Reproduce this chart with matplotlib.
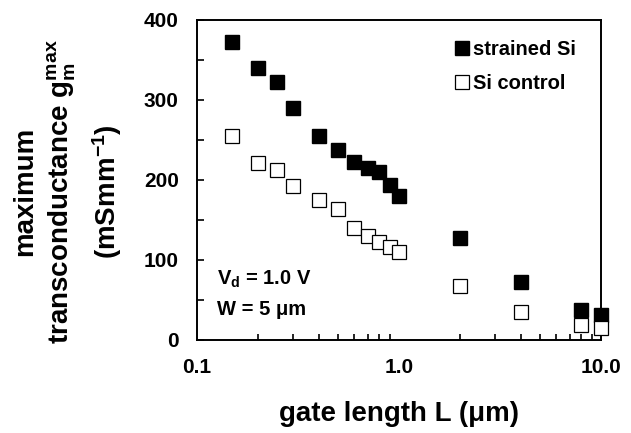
import matplotlib
matplotlib.use("Agg")
import matplotlib.pyplot as plt
from matplotlib.ticker import FixedLocator, NullFormatter

plt.rcParams['font.family'] = 'Liberation Sans'
plt.rcParams['font.weight'] = 'bold'
plt.rcParams['axes.labelweight'] = 'bold'
plt.rcParams['mathtext.fontset'] = 'custom'
plt.rcParams['mathtext.rm'] = 'Liberation Sans:bold'
plt.rcParams['mathtext.it'] = 'Liberation Sans:bold'
plt.rcParams['mathtext.default'] = 'rm'

# gate length (um) and maximum transconductance (mS/mm)
gate_length = [0.15, 0.2, 0.25, 0.3, 0.4, 0.5, 0.6, 0.7, 0.8, 0.9, 1.0, 2.0, 4.0, 8.0, 10.0]
gm_strained = [372, 340, 322, 290, 255, 238, 222, 215, 210, 194, 180, 127, 72, 38, 31]
gm_control = [255, 221, 212, 193, 175, 164, 140, 130, 122, 116, 110, 68, 35, 19, 15]

fig = plt.figure(figsize=(6.31, 4.33), dpi=100)
ax = fig.add_axes([0.312, 0.215, 0.6405, 0.739])

ax.plot(gate_length, gm_strained, 's', color='black', markersize=10,
        label='strained Si', clip_on=False, zorder=3)
ax.plot(gate_length, gm_control, 's', markerfacecolor='white',
        markeredgecolor='black', markeredgewidth=0.9, markersize=10,
        label='Si control', clip_on=False, zorder=3)

ax.set_xscale('log')
ax.set_xlim(0.1, 10)
ax.set_ylim(0, 400)

ax.xaxis.set_major_locator(FixedLocator([0.1, 1.0, 10.0]))
ax.set_xticklabels(['0.1', '1.0', '10.0'])
ax.xaxis.set_minor_locator(FixedLocator([0.2, 0.3, 0.4, 0.5, 0.6, 0.7, 0.8, 0.9,
                                         2, 3, 4, 5, 6, 7, 8, 9]))
ax.xaxis.set_minor_formatter(NullFormatter())
ax.set_yticks([0, 100, 200, 300, 400])
ax.yaxis.set_minor_locator(FixedLocator([50, 150, 250, 350]))

ax.tick_params(axis='both', which='both', direction='in', labelsize=15,
               width=1.2, top=False, right=False)
ax.tick_params(axis='x', which='major', length=0, pad=13)
ax.tick_params(axis='x', which='minor', length=4)
ax.tick_params(axis='y', which='major', length=5, pad=13)
ax.tick_params(axis='y', which='minor', length=5)
for sp in ax.spines.values():
    sp.set_linewidth(1.4)

ax.set_xlabel('gate length L (μm)', fontsize=20, labelpad=17)

# three-line y label, placed by hand
label_y = 0.557
fig.text(0.040, label_y, 'maximum', rotation=90, fontsize=20,
         ha='center', va='center')
fig.text(0.098, label_y, r'transconductance g$_{\mathregular{m}}^{\mathregular{max}}$',
         rotation=90, fontsize=20, ha='center', va='center')
fig.text(0.170, label_y, r'(mSmm$^{-1}$)', rotation=90, fontsize=20,
         ha='center', va='center')

ax.text(0.05, 0.19, r'V$_{\mathregular{d}}$ = 1.0 V', transform=ax.transAxes,
        fontsize=14.5, ha='left', va='center')
ax.text(0.05, 0.095, 'W = 5 μm', transform=ax.transAxes,
        fontsize=14.5, ha='left', va='center')

ax.legend(loc='upper left', bbox_to_anchor=(0.62, 0.95), frameon=False,
          fontsize=14.5, handletextpad=0.05, labelspacing=0.75, handlelength=1.0,
          borderaxespad=0.0, borderpad=0.2)

fig.savefig('out.png', dpi=100)
